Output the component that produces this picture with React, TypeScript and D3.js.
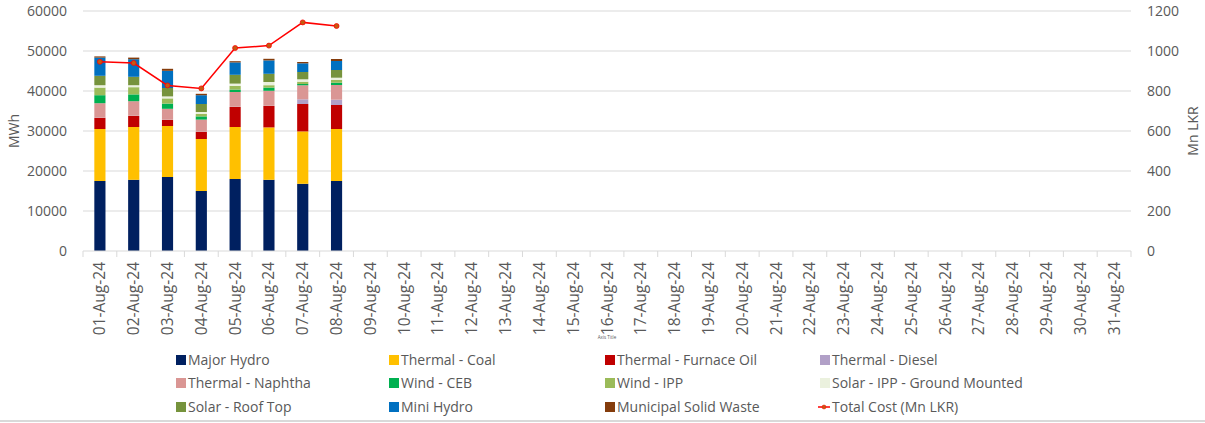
import * as d3 from 'd3';

const W = 1205;
const H = 423;

// categories: 01-Aug-24 .. 31-Aug-24
const days = [
  '01-Aug-24', '02-Aug-24', '03-Aug-24', '04-Aug-24', '05-Aug-24', '06-Aug-24', '07-Aug-24', '08-Aug-24',
  '09-Aug-24', '10-Aug-24', '11-Aug-24', '12-Aug-24', '13-Aug-24', '14-Aug-24', '15-Aug-24', '16-Aug-24',
  '17-Aug-24', '18-Aug-24', '19-Aug-24', '20-Aug-24', '21-Aug-24', '22-Aug-24', '23-Aug-24', '24-Aug-24',
  '25-Aug-24', '26-Aug-24', '27-Aug-24', '28-Aug-24', '29-Aug-24', '30-Aug-24', '31-Aug-24',
];

// MWh per source, first 8 days only (rest empty)
const majorHydro = [17500, 17800, 18500, 15000, 18000, 17800, 16800, 17500];
const thermalCoal = [13000, 13200, 12750, 13000, 13000, 13100, 13100, 13000];
const furnaceOil = [2800, 2750, 1500, 1750, 5000, 5350, 6850, 6000];
const thermalDiesel = [50, 50, 50, 50, 50, 50, 1175, 1325];
const naphtha = [3600, 3650, 2750, 3050, 3700, 3750, 3500, 3675];
const windCEB = [2000, 1700, 1300, 800, 600, 800, 325, 575];
const windIPP = [1900, 1800, 1300, 600, 950, 600, 575, 675];
const solarGround = [600, 500, 500, 500, 550, 800, 600, 575];
const solarRoof = [2350, 2100, 2100, 2000, 2200, 2050, 1825, 1925];
const miniHydro = [4550, 4400, 4300, 2200, 3100, 3350, 2175, 2250];
const msw = [300, 400, 500, 350, 300, 400, 325, 500];

// Mn LKR
const totalCost = [946, 940, 828, 813, 1015, 1027, 1143, 1125];

const leftTicks = [0, 10000, 20000, 30000, 40000, 50000, 60000];
const rightTicks = [0, 200, 400, 600, 800, 1000, 1200];

const series = [
  { name: 'Major Hydro', values: majorHydro, color: '#002060' },
  { name: 'Thermal - Coal', values: thermalCoal, color: '#FFC000' },
  { name: 'Thermal - Furnace Oil', values: furnaceOil, color: '#C00000' },
  { name: 'Thermal - Diesel', values: thermalDiesel, color: '#B1A0C7' },
  { name: 'Thermal - Naphtha', values: naphtha, color: '#DA9694' },
  { name: 'Wind - CEB', values: windCEB, color: '#00B050' },
  { name: 'Wind - IPP', values: windIPP, color: '#9BBB59' },
  { name: 'Solar - IPP - Ground Mounted', values: solarGround, color: '#EBF1DE' },
  { name: 'Solar - Roof Top', values: solarRoof, color: '#76933C' },
  { name: 'Mini Hydro', values: miniHydro, color: '#0070C0' },
  { name: 'Municipal Solid Waste', values: msw, color: '#843C0C' },
];

const FONT = "'Open Sans', 'Liberation Sans', sans-serif";
const TXT = '#595959';

export default function App() {
  const left = 83;
  const right = 1131;
  const top = 11;
  const bottom = 251;

  const x = d3.scaleBand<string>().domain(days).range([left, right]);
  const y = d3.scaleLinear().domain([0, 60000]).range([bottom, top]);
  const y2 = d3.scaleLinear().domain([0, 1200]).range([bottom, top]);
  const barW = x.bandwidth() * 0.33;

  const rows = majorHydro.map((_, i) => {
    const r: Record<string, number | string> = { day: days[i] };
    series.forEach((s) => (r[s.name] = s.values[i]));
    return r;
  });
  const stacked = d3.stack<Record<string, number | string>>().keys(series.map((s) => s.name))(rows);

  const cx = (i: number) => (x(days[i]) ?? 0) + x.bandwidth() / 2;
  const line = d3
    .line<number>()
    .x((_, i) => cx(i))
    .y((d) => y2(d));

  const legendCols = [176, 389, 605, 820];
  const legendRows = [360, 383, 407];
  const legendItems = [...series.map((s) => ({ name: s.name, color: s.color, line: false })),
    { name: 'Total Cost (Mn LKR)', color: '#FF0000', line: true }];

  return (
    <svg width={W} height={H} style={{ position: 'absolute', left: 0, top: 0, background: '#fff' }} fontFamily={FONT}>
      {/* gridlines */}
      {leftTicks.slice(1).map((t) => (
        <line key={t} x1={left} x2={right} y1={y(t)} y2={y(t)} stroke="#D9D9D9" strokeWidth={1} />
      ))}
      {/* bars */}
      {stacked.map((layer, si) => (
        <g key={layer.key} fill={series[si].color}>
          {layer.map((d, i) => (
            <rect key={i} x={cx(i) - barW / 2} width={barW} y={y(d[1])} height={Math.max(0, y(d[0]) - y(d[1]))} />
          ))}
        </g>
      ))}
      {/* x axis */}
      <line x1={left} x2={right} y1={bottom} y2={bottom} stroke="#D9D9D9" />
      {days.map((d) => (
        <line key={d} x1={x(d)} x2={x(d)} y1={bottom} y2={bottom + 6} stroke="#D9D9D9" />
      ))}
      <line x1={right} x2={right} y1={bottom} y2={bottom + 6} stroke="#D9D9D9" />
      {days.map((d, i) => (
        <text key={d} transform={`translate(${cx(i) + 5.5},${bottom + 11}) rotate(-90)`} textAnchor="end" fontSize={15.5} fill={TXT}>
          {d}
        </text>
      ))}
      <text x={607} y={339} fontSize={4.5} fill={TXT} textAnchor="middle">Axis Title</text>
      {/* left axis */}
      {leftTicks.map((t) => (
        <text key={t} x={67} y={y(t) + 5} textAnchor="end" fontSize={14} fill={TXT}>{t}</text>
      ))}
      <text transform={`translate(19,${(top + bottom) / 2}) rotate(-90)`} textAnchor="middle" fontSize={14} fill={TXT}>MWh</text>
      {/* right axis */}
      {rightTicks.map((t) => (
        <text key={t} x={1147} y={y2(t) + 5} textAnchor="start" fontSize={14} fill={TXT}>{t}</text>
      ))}
      <text transform={`translate(1198,${(top + bottom) / 2}) rotate(-90)`} textAnchor="middle" fontSize={14} fill={TXT}>Mn LKR</text>
      {/* total cost line */}
      <path d={line(totalCost) ?? ''} fill="none" stroke="#FF0000" strokeWidth={1.5} />
      {totalCost.map((v, i) => (
        <circle key={i} cx={cx(i)} cy={y2(v)} r={2.5} fill="#C55A11" stroke="#FF0000" strokeWidth={0.75} />
      ))}
      {/* legend */}
      {legendItems.map((it, k) => {
        const lx = legendCols[k % 4];
        const ly = legendRows[Math.floor(k / 4)];
        return (
          <g key={it.name}>
            {it.line ? (
              <g>
                <line x1={lx - 2} x2={lx + 10} y1={ly} y2={ly} stroke="#FF0000" strokeWidth={1.5} />
                <circle cx={lx + 4} cy={ly} r={2} fill="#C55A11" stroke="#FF0000" strokeWidth={0.5} />
              </g>
            ) : (
              <rect x={lx} y={ly - 5} width={10} height={10} fill={it.color} />
            )}
            <text x={lx + 12} y={ly + 5} fontSize={14} fill={TXT}>{it.name}</text>
          </g>
        );
      })}
      <line x1={0} x2={W} y1={421} y2={421} stroke="#D9D9D9" strokeWidth={2} />
    </svg>
  );
}
